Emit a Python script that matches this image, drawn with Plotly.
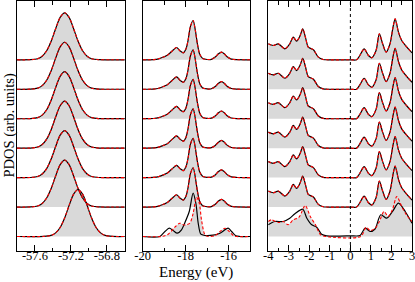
import plotly.graph_objects as go

# ---------------- data (heights in arbitrary units) ----------------
N_ROWS = 7
ROW_STEP = 29.45

# Panel 1 (semicore level around -57.3 eV)
P1_E_UP = [-57.80, -57.65, -57.57, -57.52, -57.47, -57.42, -57.37, -57.32, -57.27,
           -57.22, -57.17, -57.12, -57.07, -57.02, -56.97, -56.89, -56.75, -56.60]
P1_UP = [0, 0.1, 1.1, 3.6, 9.0, 18.5, 31.1, 42.4, 47.0,
         42.4, 31.1, 18.5, 9.0, 3.6, 1.1, 0.1, 0, 0]
P1_E_BOT = [-57.80, -57.50, -57.42, -57.37, -57.32, -57.27, -57.22, -57.17, -57.12,
            -57.07, -57.02, -56.97, -56.92, -56.87, -56.82, -56.74, -56.60]
P1_BOT_BLACK = [0, 0.1, 1.1, 3.6, 9.0, 18.5, 31.1, 42.4, 47.0,
                42.4, 31.1, 18.5, 9.0, 3.6, 1.1, 0.1, 0]
P1_BOT_RED = P1_BOT_BLACK

# Panel 2 (around -18 eV)
P2_E_UP = [-20.0, -19.5, -19.25, -19.0, -18.85, -18.65, -18.42, -18.25, -18.1, -17.98,
           -17.88, -17.78, -17.65, -17.55, -17.45, -17.34, -17.2, -17.0, -16.8, -16.62,
           -16.47, -16.33, -16.2, -16.07, -15.87, -15.6, -15.0]
P2_UP = [0, 0.2, 1.0, 3.0, 4.5, 8.3, 12.3, 8.8, 7.0, 11.0,
         20.0, 33.0, 39.3, 30.0, 16.0, 5.5, 1.2, 0.3, 0.5, 2.7,
         6.0, 7.7, 6.0, 3.0, 0.7, 0.1, 0]
P2_E_BOT_BLACK = [-20.0, -19.2, -18.96, -18.76, -18.58, -18.39, -18.19, -18.03, -17.83,
                  -17.65, -17.52, -17.41, -17.29, -17.1, -16.72, -16.4, -16.02, -15.86,
                  -15.66, -15.47, -15.0]
P2_BOT_BLACK = [0, 0, 5.0, 8.3, 6.0, 3.3, 6.7, 14.0, 25.0,
                43.3, 33.0, 13.0, 2.3, 1.0, 1.3, 3.3, 8.3, 5.0,
                0.7, 0, 0]
P2_E_BOT_RED = [-20.0, -19.12, -18.81, -18.5, -18.27, -18.11, -17.96, -17.8, -17.65,
                -17.49, -17.36, -17.26, -17.1, -16.95, -16.64, -16.4, -16.17, -15.97,
                -15.78, -15.63, -15.0]
P2_BOT_RED = [0, 0, 2.3, 9.3, 13.3, 11.7, 11.7, 13.3, 23.0,
              39.3, 33.0, 16.7, 1.7, 0, 0.7, 5.0, 8.3, 5.0,
              1.0, 0, 0]

# Panel 3 (valence / conduction, -4 to 3 eV)
P3_E_UP = [-4.0, -3.76, -3.51, -3.19, -2.95, -2.78, -2.62, -2.45, -2.32, -2.18, -2.05,
           -1.8, -1.56, -1.32, -1.1, 0.0, 0.3, 0.46, 0.67, 0.88, 1.04, 1.25, 1.41,
           1.57, 1.74, 1.93, 2.07, 2.18, 2.34, 2.5, 2.75, 3.0]
P3_UP = [16.0, 14.3, 16.0, 11.0, 16.0, 22.7, 18.7, 24.0, 31.0, 22.0, 12.7,
         10.0, 2.7, 0.3, 0, 0, 0, 4.3, 11.0, 4.3, 2.0, 9.3, 26.0,
         16.0, 7.7, 16.0, 32.0, 41.0, 27.7, 19.3, 12.7, 7.0]
P3_E_BOT_BLACK = [-4.0, -3.68, -3.27, -2.95, -2.7, -2.32, -2.12, -1.88, -1.64, -1.4,
                  -1.15, 0.0, 0.47, 0.72, 0.96, 1.2, 1.48, 1.77, 2.05, 2.34, 2.67, 3.0]
P3_BOT_BLACK = [11.7, 15.0, 15.0, 18.3, 22.7, 27.3, 18.3, 11.7, 9.3, 2.3,
                0.7, 0.7, 1.0, 8.3, 5.0, 7.5, 21.7, 18.3, 25.0, 33.3, 25.0, 13.3]
P3_E_BOT_RED = [-4.0, -3.85, -3.51, -3.27, -3.03, -2.78, -2.5, -2.2, -1.95, -1.7,
                -1.45, -1.2, 0.5, 0.77, 0.96, 1.2, 1.41, 1.64, 1.84, 2.05, 2.26, 2.5,
                2.75, 3.0]
P3_BOT_RED = [15.0, 16.7, 14.0, 15.0, 11.7, 16.7, 19.3, 31.0, 20.0, 11.7,
              1.7, 0, 0, 9.3, 6.0, 8.0, 15.0, 25.0, 20.0, 27.0, 40.0, 30.0,
              21.0, 15.0]

P1_TICKS = [-57.6, -57.2, -56.8]
P1_TICKTEXT = ["-57.6", "-57.2", "-56.8"]
P1_MINOR = [-57.4, -57.0]
P2_TICKS = [-20, -18, -16]
P2_TICKTEXT = ["-20", "-18", "-16"]
P2_MINOR = [-19, -17]
P3_TICKS = [-4, -3, -2, -1, 0, 1, 2, 3]
P3_TICKTEXT = ["-4", "-3", "-2", "-1", "0", "1", "2", "3"]
P3_MINOR = [-3.5, -2.5, -1.5, -0.5, 0.5, 1.5, 2.5]

Y_LABEL = "PDOS (arb. units)"
X_LABEL = "Energy (eV)"

# ---------------- styling ----------------
FONT = "Liberation Serif"
GRAY = "#d9d9d9"
W, H = 415, 282
ML, MR, MT, MB = 17, 3, 1, 31

panels = [
    dict(xr=[-57.8, -56.6], dom=[0.0, 0.273], up=(P1_E_UP, P1_UP),
         bb=(P1_E_BOT, P1_BOT_BLACK), br=(P1_E_BOT, P1_BOT_RED),
         tv=P1_TICKS, tt=P1_TICKTEXT, mv=P1_MINOR),
    dict(xr=[-20, -15], dom=[0.318, 0.590], up=(P2_E_UP, P2_UP),
         bb=(P2_E_BOT_BLACK, P2_BOT_BLACK), br=(P2_E_BOT_RED, P2_BOT_RED),
         tv=P2_TICKS, tt=P2_TICKTEXT, mv=P2_MINOR),
    dict(xr=[-4, 3], dom=[0.636, 1.0], up=(P3_E_UP, P3_UP),
         bb=(P3_E_BOT_BLACK, P3_BOT_BLACK), br=(P3_E_BOT_RED, P3_BOT_RED),
         tv=P3_TICKS, tt=P3_TICKTEXT, mv=P3_MINOR),
]

fig = go.Figure()

def rows_for(p):
    out = []
    for r in range(N_ROWS):
        off = (N_ROWS - 1 - r) * ROW_STEP
        if r == N_ROWS - 1:
            out.append((off, p["bb"], p["br"]))
        else:
            out.append((off, p["up"], p["up"]))
    return out

for i, p in enumerate(panels):
    xa = "x" if i == 0 else f"x{i+1}"
    ya = "y" if i == 0 else f"y{i+1}"
    rows = rows_for(p)
    # fills first
    for off, blk, red in rows:
        fig.add_trace(go.Scatter(x=p["xr"], y=[off, off], mode="lines",
                                 line=dict(width=0, color=GRAY), xaxis=xa, yaxis=ya,
                                 showlegend=False, hoverinfo="skip"))
        fig.add_trace(go.Scatter(x=red[0], y=[off + v for v in red[1]], mode="lines",
                                 line=dict(width=0, color=GRAY, shape="spline", smoothing=0.8),
                                 fill="tonexty", fillcolor=GRAY, xaxis=xa, yaxis=ya,
                                 showlegend=False, hoverinfo="skip"))
    # black lines
    for off, blk, red in rows:
        fig.add_trace(go.Scatter(x=blk[0], y=[off + v for v in blk[1]], mode="lines",
                                 line=dict(width=1.2, color="black", shape="spline", smoothing=0.8),
                                 xaxis=xa, yaxis=ya, showlegend=False, hoverinfo="skip"))
    # red dashed lines
    for off, blk, red in rows:
        fig.add_trace(go.Scatter(x=red[0], y=[off + v for v in red[1]], mode="lines",
                                 line=dict(width=1.1, color="#ff0000", dash="3px,2px",
                                           shape="spline", smoothing=0.8),
                                 xaxis=xa, yaxis=ya, showlegend=False, hoverinfo="skip"))

layout = dict(width=W, height=H, margin=dict(l=ML, r=MR, t=MT, b=MB),
              paper_bgcolor="white", plot_bgcolor="white", showlegend=False,
              font=dict(family=FONT, size=12, color="black"))
for i, p in enumerate(panels):
    xk = "xaxis" if i == 0 else f"xaxis{i+1}"
    yk = "yaxis" if i == 0 else f"yaxis{i+1}"
    ya = "y" if i == 0 else f"y{i+1}"
    xa = "x" if i == 0 else f"x{i+1}"
    layout[xk] = dict(domain=p["dom"], range=p["xr"], anchor=ya,
                      tickmode="array", tickvals=p["tv"], ticktext=p["tt"],
                      ticks="inside", ticklen=6, tickwidth=1, tickcolor="black",
                      minor=dict(tickvals=p["mv"], ticks="inside", ticklen=3.5,
                                 tickwidth=1, tickcolor="black", showgrid=False),
                      showline=True, linecolor="black", linewidth=1, mirror="ticks",
                      showgrid=False, zeroline=False, ticklabeloverflow="allow",
                      ticklabelstandoff=-7,
                      tickfont=dict(family=FONT, size=12.5, color="black"))
    layout[yk] = dict(domain=[0, 1], range=[-14.5, 235.5], anchor=xa,
                      showticklabels=False, ticks="", showline=True, linecolor="black",
                      linewidth=1, mirror=True, showgrid=False, zeroline=False)
fig.update_layout(**layout)

fig.add_shape(type="line", xref="x3", yref="y3 domain", x0=0, x1=0, y0=0, y1=1,
              line=dict(color="black", width=1, dash="dot"), layer="above")

pw = W - ML - MR
ph = H - MT - MB
fig.add_annotation(text=Y_LABEL, xref="paper", yref="paper",
                   x=(8.5 - ML) / pw, y=0.5, xanchor="center", yanchor="middle",
                   textangle=-90, showarrow=False,
                   font=dict(family=FONT, size=14.5, color="black"))
fig.add_annotation(text=X_LABEL, xref="paper", yref="paper",
                   x=(sum(panels[1]["dom"]) / 2), y=(H - MB - 272) / ph,
                   xanchor="center", yanchor="middle", showarrow=False,
                   font=dict(family=FONT, size=15, color="black"))

fig.write_html("out.html", config={"displayModeBar": False},
               post_script="document.body.style.margin='0';document.body.style.overflow='hidden';")
